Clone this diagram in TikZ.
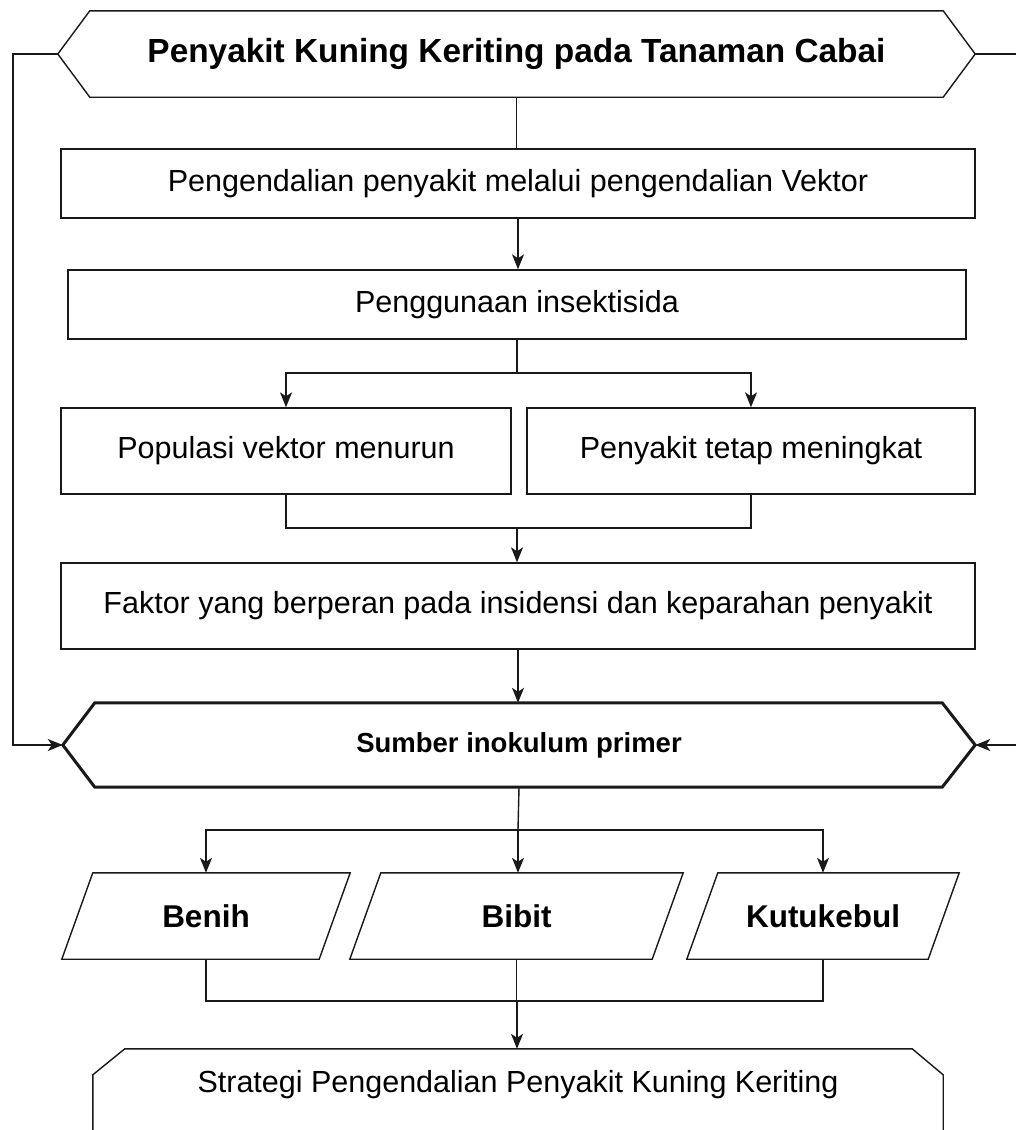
\documentclass[tikz,border=0pt]{standalone}
\usepackage{fontspec}
\setmainfont{Liberation Sans}
\usetikzlibrary{arrows.meta,calc}
\begin{document}
\begin{tikzpicture}[x=1pt,y=-1pt,
  every node/.style={font=\fontsize{30.5}{36}\selectfont},
  ln/.style={line width=1.4pt,draw=black!90},
  thick ln/.style={line width=3pt,draw=black!90,line join=miter},
  arr/.style={ln,-{Stealth[length=15pt,width=12pt,inset=4pt]}},
  boxn/.style={draw=black!90,line width=1.4pt,rectangle,inner sep=0pt,align=center},
  plain/.style={rectangle,inner sep=0pt,align=center},
  bold/.style={font=\fontsize{31.5}{36}\selectfont\bfseries}
]
\useasboundingbox (0,0) rectangle (1016,1130);
\clip (0,0) rectangle (1016,1130);
\fill[white] (0,0) rectangle (1016,1130);

% top hexagon
\node[plain,font=\fontsize{33.4}{38}\selectfont\bfseries,minimum width=917pt,minimum height=86pt] (top) at (516.5,54) {\raisebox{-2.5pt}{Penyakit Kuning Keriting pada Tanaman Cabai}};
\draw[ln,line join=miter] (top.west) -- ([xshift=32pt]top.north west) -- ([xshift=-32pt]top.north east) -- (top.east) -- ([xshift=-32pt]top.south east) -- ([xshift=32pt]top.south west) -- cycle;

\node[boxn,minimum width=914pt,minimum height=69pt] (b1) at (518,183.5) {Pengendalian penyakit melalui pengendalian Vektor};
\node[boxn,minimum width=898pt,minimum height=69pt] (b2) at (517,304.5) {Penggunaan insektisida};
\node[boxn,minimum width=450pt,minimum height=86pt] (pl) at (286,451) {Populasi vektor menurun};
\node[boxn,minimum width=448pt,minimum height=86pt] (pr) at (751,451) {Penyakit tetap meningkat};
\node[boxn,minimum width=914pt,minimum height=86pt] (fk) at (518,606) {Faktor yang berperan pada insidensi dan keparahan penyakit};

% Sumber hexagon
\node[plain,font=\fontsize{27.5}{32}\selectfont\bfseries,minimum width=912pt,minimum height=84pt] (sum) at (519,745) {Sumber inokulum primer};
\draw[thick ln] (sum.west) -- ([xshift=32pt]sum.north west) -- ([xshift=-33pt]sum.north east) -- (sum.east) -- ([xshift=-33pt]sum.south east) -- ([xshift=32pt]sum.south west) -- cycle;

% parallelograms
\node[plain,bold,minimum width=288pt,minimum height=86pt] (benih) at (206,916) {Benih};
\node[plain,bold,minimum width=333pt,minimum height=86pt] (bibit) at (516.5,916) {Bibit};
\node[plain,bold,minimum width=272pt,minimum height=86pt] (kutu) at (823,916) {Kutukebul};
\foreach \n in {benih,bibit,kutu}{
  \draw[ln,line join=miter] ([xshift=31pt]\n.north west) -- (\n.north east) -- ([xshift=-31pt]\n.south east) -- (\n.south west) -- cycle;
}

% bottom shape
\node[plain,minimum width=850pt,minimum height=72pt] (strat) at (518,1085) {Strategi Pengendalian Penyakit Kuning Keriting};
\draw[ln,line join=miter] ([yshift=-60pt]strat.south west) -- ([yshift=-26pt]strat.north west) -- ([xshift=32pt]strat.north west) -- ([xshift=-31pt]strat.north east) -- ([yshift=-26pt]strat.north east) -- ([yshift=-60pt]strat.south east);

% junctions
\coordinate (j1) at (517,373);
\coordinate (j2) at (517,528);
\coordinate (j3) at (518,830);
\coordinate (j4) at (517,1001);
\coordinate (ll) at (13,54);
\coordinate (rr) at (1040,54);

% connectors
\draw[ln] (top.south) -- (top.south |- b1.north);
\draw[arr] (b1.south) -- (b1.south |- b2.north);
\draw[ln] (b2.south) -- (j1);
\draw[arr] (j1) -| (pl.north);
\draw[arr] (j1) -| (pr.north);
\draw[ln] (pl.south) |- (j2);
\draw[ln] (pr.south) |- (j2);
\draw[arr] (j2) -- (j2 |- fk.north);
\draw[arr] (fk.south) -- (fk.south |- sum.north);
\draw[ln] (sum.south) -- (j3);
\draw[arr] (j3) -| (benih.north);
\draw[arr] (j3) -| (kutu.north);
\draw[arr] (j3) -- (j3 |- bibit.north);
\draw[ln] (benih.south) |- (j4);
\draw[ln] (kutu.south) |- (j4);
\draw[ln] (bibit.south) -- (bibit.south |- j4);
\draw[arr] (j4) -- (j4 |- strat.north);
\draw[arr] (top.west) -- (top.west -| ll) |- (sum.west);
\draw[arr] (top.east) -- (top.east -| rr) |- (sum.east);
\end{tikzpicture}
\end{document}
